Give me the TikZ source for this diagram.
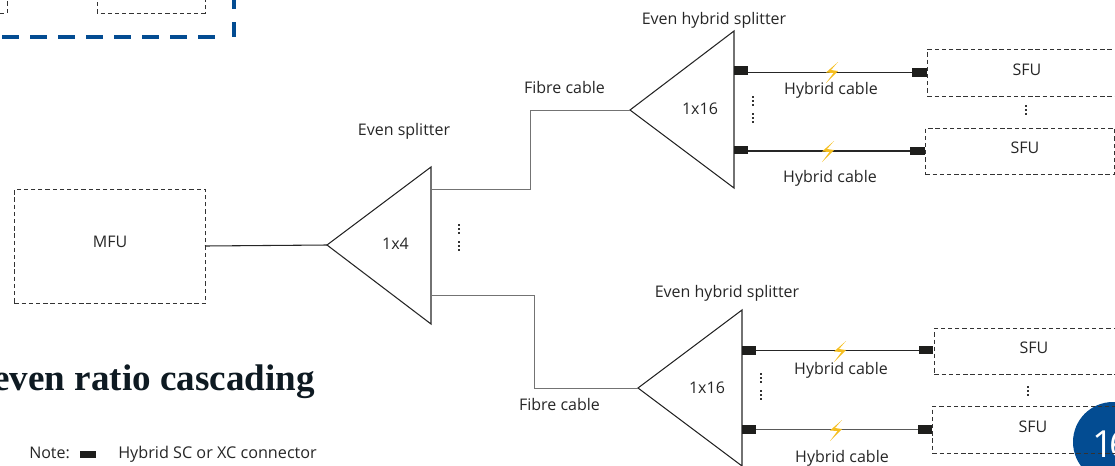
\documentclass[tikz,border=0pt]{standalone}
\usepackage{fontspec}
\setmainfont{Open Sans}
\newfontfamily\titlefont{Liberation Serif}
\definecolor{blueedge}{HTML}{034C92}
\definecolor{bolt}{HTML}{F5BE1E}
\definecolor{conn}{HTML}{1E1E1C}
\definecolor{titleink}{HTML}{0E1A22}
\tikzset{
 x=0.75pt,y=-0.75pt,
 unit/.style={draw=black!80,dash pattern=on 3.2pt off 2.2pt,line width=0.7pt,inner sep=0pt},
 lab/.style={font=\fontsize{12}{14}\selectfont,text=black!85,inner sep=0pt},
 tri/.style={draw=black!85,line width=0.8pt,line join=miter},
 fibre/.style={draw=black!55,line width=0.7pt},
 hybrid/.style={draw=black!85,line width=1pt},
 plug/.style={fill=conn,draw=none,minimum width=10.8pt,minimum height=6.5pt,inner sep=0pt},
 vdots/.style={draw=black!80,line width=1.5pt,dash pattern=on 1.4pt off 1.6pt},
 boltshape/.style={fill=bolt,draw=none},
}
\newcommand{\boltat}[2]{\fill[boltshape] (#1+7,#2-10) -- (#1-5,#2+0.5) -- (#1+2.5,#2+1) -- (#1-5,#2+11) -- (#1+7,#2-1) -- (#1+0,#2-2) -- cycle;}
\newcommand{\vd}[3]{\draw[vdots] (#1,#2) -- (#1,#3);}
\begin{document}
\begin{tikzpicture}
\useasboundingbox (0,0) rectangle (1115,465);
\clip (0,0) rectangle (1115,465);
% top-left fragments
\draw[unit] (97,-5) -- (97,13) -- (205,13) -- (205,-5);
\draw[unit] (0,13) -- (7,13) -- (7,-5);
\draw[blueedge,line width=2.6pt,dash pattern=on 12.5pt off 8.5pt] (2,37) -- (215,37);
\draw[blueedge,line width=2.6pt] (234,-1) -- (234,9);
\draw[blueedge,line width=2.6pt] (234,22) -- (234,37);
% page badge
\fill[blueedge] (1113,442) circle[radius=40];
\node[anchor=base west,text=white,font=\fontsize{28}{30}\selectfont,inner sep=0pt] (page) at (1092,457) {1\kern-3pt 6};
% title / note
\node[anchor=base east,font=\titlefont\bfseries\fontsize{27.8}{30}\selectfont,text=titleink,inner sep=0pt] (title) at (315,390) {even ratio cascading};
\node[lab,anchor=base west] (note) at (29,458) {Note:};
\node[plug,minimum width=11.5pt,minimum height=5.5pt] (noteplug) at (88,454.5) {};
\node[lab,anchor=base west,font=\fontsize{12.15}{14}\selectfont] (notetext) at (118,458) {Hybrid SC or XC connector};
% boxes
\node[unit,minimum width=143.25pt,minimum height=85.5pt,anchor=north west] (mfu) at (14,189) {};
\node[lab] at (110,242) {MFU};
\node[unit,minimum width=146pt,minimum height=35.2pt,anchor=north west] (s1) at (927,49) {};
\node[lab] at (1027,69.5) {SFU};
\node[unit,minimum width=142pt,minimum height=34.5pt,anchor=north west] (s2) at (925,128) {};
\node[lab] at (1025,147.5) {SFU};
\node[unit,minimum width=146pt,minimum height=34.5pt,anchor=north west] (s3) at (934,328) {};
\node[lab] at (1034,348) {SFU};
\node[unit,minimum width=146pt,minimum height=35pt,anchor=north west] (s4) at (932,406) {};
\node[lab] at (1033,427) {SFU};
% triangles
\coordinate (a) at (327,245); \coordinate (at) at (431,167); \coordinate (ab) at (431,324);
\draw[tri] (a) -- (at) -- (ab) -- cycle;
\node[lab] (a1) at (395.5,243.5) {1x4};
\coordinate (b) at (630,110); \coordinate (bt) at (734,31); \coordinate (bb) at (734,188);
\draw[tri] (b) -- (bt) -- (bb) -- cycle;
\node[lab] (b1) at (700,108.5) {1x16};
\coordinate (c) at (638,388); \coordinate (ct) at (742,310); \coordinate (cb) at (742,466);
\draw[tri] (c) -- (ct) -- (cb) -- cycle;
\node[lab] (c1) at (707,387.5) {1x16};
% fibres
\coordinate (mfuout) at (205,246);
\draw[draw=black!85,line width=0.8pt] (mfuout) -- (a);
\coordinate (ao1) at (431,189); \coordinate (ao2) at (431,295);
\draw[fibre] (ao1) -- (530,189) -- (530,110) -- (b);
\draw[fibre] (ao2) -- (534,295) -- (534,388) -- (c);
% connectors
\node[plug] (p1a) at (741,70.5) {}; \node[plug] (p1b) at (919.5,72.5) {};
\node[plug] (p2a) at (741,150) {}; \node[plug] (p2b) at (917.5,151) {};
\node[plug] (p3a) at (749,350.3) {}; \node[plug] (p3b) at (926,350) {};
\node[plug] (p4a) at (749,429.7) {}; \node[plug] (p4b) at (925,429.7) {};
\coordinate (w1) at (p1a.east |- p1b); \draw[hybrid] (w1) -- (p1b.west);
\coordinate (w2) at (p2a.east |- p2b); \draw[hybrid] (w2) -- (p2b.west);
\draw[hybrid] (p3a.east) -- (p3b.west |- p3a);
\draw[hybrid,draw=black!65] (p4a.east) -- (p4b.west);
\boltat{831}{72}
\boltat{827}{151}
\boltat{839}{351}
\boltat{835}{430}
% labels
\node[lab] at (404,131.5) {Even splitter};
\node[lab] at (714,20.5) {Even hybrid splitter};
\node[lab] at (727,293.5) {Even hybrid splitter};
\node[lab] at (564.5,87.5) {Fibre cable};
\node[lab] at (559.5,404) {Fibre cable};
\node[lab] at (831,90) {Hybrid cable};
\node[lab] at (830,178) {Hybrid cable};
\node[lab] at (841,370) {Hybrid cable};
\node[lab] at (842,458) {Hybrid cable};
% ellipses
\vd{459}{224}{234}\vd{459}{241}{251}
\vd{753}{96}{106}\vd{753}{113}{123}
\vd{761}{373}{383}\vd{761}{390}{400}
\vd{1026}{105}{116}
\vd{1028}{386}{397}
\end{tikzpicture}
\end{document}
